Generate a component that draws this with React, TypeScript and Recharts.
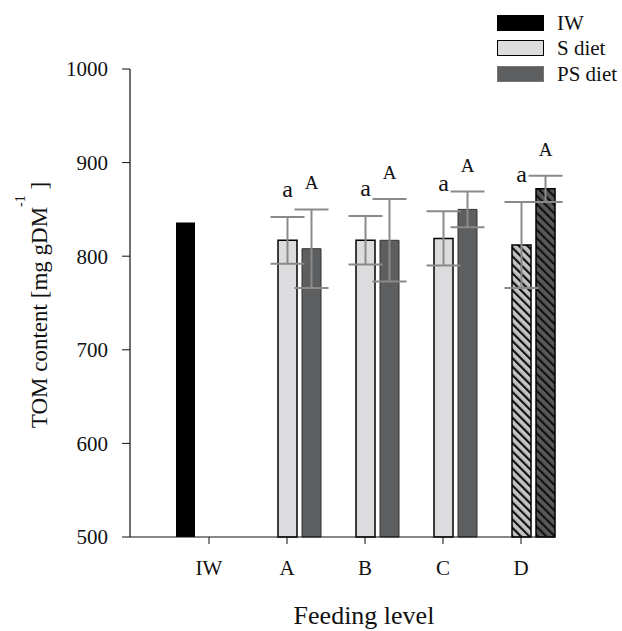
import { Bar, BarChart, Cell, ErrorBar, LabelList, XAxis, YAxis } from "recharts";

const levels = ["IW", "A", "B", "C", "D"];
const iwValues = [836, null, null, null, null];
const sDiet = [null, 817, 817, 819, 812];
const sDietErr = [null, 25, 26, 29, 46];
const psDiet = [null, 808, 817, 850, 872];
const psDietErr = [null, 42, 44, 19, 14];
const sLetters = ["", "a", "a", "a", "a"];
const psLetters = ["", "A", "A", "A", "A"];
const yTicks = [500, 600, 700, 800, 900, 1000];
const yMin = 500;
const yMax = 1000;

const data = levels.map((level, i) => ({
  level,
  iw: iwValues[i],
  s: sDiet[i],
  sErr: sDietErr[i],
  ps: psDiet[i],
  psErr: psDietErr[i],
  sSig: sLetters[i],
  psSig: psLetters[i],
}));

const FONT = "'Liberation Serif', 'DejaVu Serif', serif";
const S_FILL = "#dcdcde";
const PS_FILL = "#5d5e60";

// label value carries "letter|mean|err" so the cap height can be found from the bar geometry
const sigKey = (val: string, sig: string, err: string) => (d: any) =>
  d[val] == null || !d[sig] ? null : `${d[sig]}|${d[val]}|${d[err]}`;

function sigLabel(fontSize: number) {
  return (props: any) => {
    const { x, y, width, height, value } = props;
    if (!value) return null;
    const [letter, mean, err] = String(value).split("|");
    const v = Number(mean);
    const e = Number(err);
    const top = Number(y) - (e * Number(height)) / (v - yMin);
    return (
      <text
        x={Number(x) + Number(width) / 2}
        y={top - 20}
        textAnchor="middle"
        fontFamily={FONT}
        fontSize={fontSize}
        fill="#111"
      >
        {letter}
      </text>
    );
  };
}

const legendItems = [
  { label: "IW", fill: "#000", border: "#000" },
  { label: "S diet", fill: S_FILL, border: "#000" },
  { label: "PS diet", fill: PS_FILL, border: "#777" },
];

export default function App() {
  return (
    <div style={{ position: "absolute", left: 0, top: 0, width: 622, height: 631, background: "#fff" }}>
      <BarChart
        width={622}
        height={631}
        data={data}
        margin={{ top: 69, right: 67, bottom: 44, left: 0 }}
        barSize={19}
        barGap={5}
      >
        <defs>
          <pattern id="hatchS" width="6" height="6" patternUnits="userSpaceOnUse" patternTransform="rotate(-45)">
            <rect width="6" height="6" fill="#c4c4c6" />
            <rect width="2.2" height="6" fill="#111" />
          </pattern>
          <pattern id="hatchPS" width="6" height="6" patternUnits="userSpaceOnUse" patternTransform="rotate(-45)">
            <rect width="6" height="6" fill="#58595b" />
            <rect width="2.2" height="6" fill="#111" />
          </pattern>
        </defs>
        <XAxis
          dataKey="level"
          padding={{ left: 40, right: -5 }}
          axisLine={{ stroke: "#111", strokeWidth: 1.2 }}
          tickLine={{ stroke: "#111" }}
          tickSize={7}
          tickMargin={16}
          height={50}
          tick={{ fontSize: 21, fill: "#111", fontFamily: FONT }}
          label={() => (
            <text x={364} y={624} textAnchor="middle" fontFamily={FONT} fontSize={26} fill="#111">
              Feeding level
            </text>
          )}
        />
        <YAxis
          type="number"
          domain={[yMin, yMax]}
          ticks={yTicks}
          width={130}
          axisLine={{ stroke: "#111", strokeWidth: 1.2 }}
          tickLine={{ stroke: "#111" }}
          tickSize={8}
          tickMargin={14}
          tick={{ fontSize: 21, fill: "#111", fontFamily: FONT }}
          label={() => (
            <text
              x={47}
              y={305}
              transform="rotate(-90, 47, 305)"
              textAnchor="middle"
              fontFamily={FONT}
              fontSize={23}
              fill="#111"
            >
              TOM content [mg gDM
              <tspan fontSize={14} dy={-22}>
                -1
              </tspan>
              <tspan dy={22}> ]</tspan>
            </text>
          )}
        />
        <Bar dataKey="iw" fill="#000" isAnimationActive={false} />
        <Bar dataKey="s" fill={S_FILL} stroke="#000" strokeWidth={1.5} isAnimationActive={false}>
          {data.map((d, i) => (
            <Cell key={d.level} fill={i === 4 ? "url(#hatchS)" : S_FILL} />
          ))}
          <ErrorBar dataKey="sErr" width={17} stroke="#8a8a8a" strokeWidth={2} direction="y" />
          <LabelList dataKey={sigKey("s", "sSig", "sErr")} content={sigLabel(24)} />
        </Bar>
        <Bar dataKey="ps" fill={PS_FILL} stroke="#333" strokeWidth={1} isAnimationActive={false}>
          {data.map((d, i) => (
            <Cell
              key={d.level}
              fill={i === 4 ? "url(#hatchPS)" : PS_FILL}
              stroke={i === 4 ? "#000" : "#333"}
              strokeWidth={i === 4 ? 1.5 : 1}
            />
          ))}
          <ErrorBar dataKey="psErr" width={17} stroke="#8a8a8a" strokeWidth={2} direction="y" />
          <LabelList dataKey={sigKey("ps", "psSig", "psErr")} content={sigLabel(19)} />
        </Bar>
      </BarChart>
      <div style={{ position: "absolute", left: 497, top: 10, fontFamily: FONT, fontSize: 21, color: "#111" }}>
        {legendItems.map((it) => (
          <div key={it.label} style={{ display: "flex", alignItems: "center", height: 25.5 }}>
            <div
              style={{
                width: 45,
                height: 14,
                background: it.fill,
                border: `1.5px solid ${it.border}`,
                marginRight: 13,
              }}
            />
            <span style={{ lineHeight: "20px", fontFamily: FONT }}>{it.label}</span>
          </div>
        ))}
      </div>
    </div>
  );
}
